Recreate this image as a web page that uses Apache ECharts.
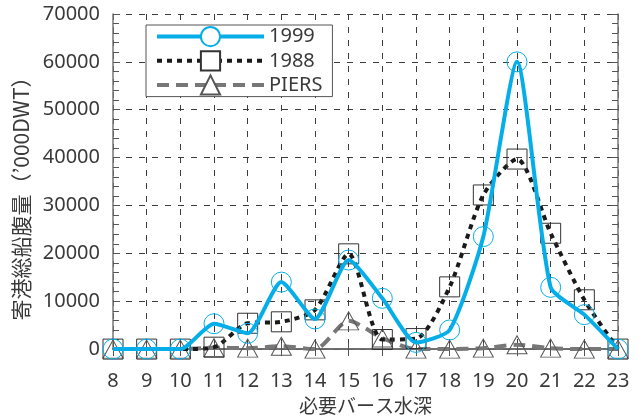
<!DOCTYPE html>
<html>
<head>
<meta charset="utf-8">
<script src="https://cdn.jsdelivr.net/npm/echarts@6/dist/echarts.min.js"></script>
<style>
  html, body { margin: 0; padding: 0; background: #ffffff; }
  #chart { width: 644px; height: 420px; }
</style>
</head>
<body>
<div id="chart"></div>
<script>
// Required berth depth (m)
const depths = ['8', '9', '10', '11', '12', '13', '14', '15', '16', '17', '18', '19', '20', '21', '22', '23'];
// Total calling tonnage ('000 DWT) by required berth depth
const tonnage1999 = [0, 0, 0, 5300, 3300, 14000, 6300, 18600, 10600, 1400, 4000, 23500, 60000, 12900, 7200, 0];
const tonnage1988 = [0, 0, 0, 400, 5400, 5700, 8200, 19900, 2000, 2200, 13000, 32200, 39700, 24200, 10300, 0];
const tonnagePiers = [0, 0, 0, 300, 200, 600, 0, 5900, 2300, 0, 0, 200, 900, 200, 0, 0];
const yTicks = [0, 10000, 20000, 30000, 40000, 50000, 60000, 70000];

const latin = '"Noto Sans", sans-serif';
const cjk = '"Noto Sans CJK JP", sans-serif';
const textColor = '#3a3a3a';
const gridDash = { color: '#3c3c3c', width: 1, type: [6, 7] };

const chart = echarts.init(document.getElementById('chart'), null, { renderer: 'canvas' });

chart.setOption({
  animation: false,
  backgroundColor: '#ffffff',
  grid: { left: 113, right: 26, top: 14, bottom: 63, containLabel: false },
  legend: {
    orient: 'vertical',
    left: 146,
    top: 25,
    width: 185,
    padding: [1, 10, 1, 9],
    itemGap: 3,
    itemWidth: 107,
    itemHeight: 24,
    backgroundColor: '#ffffff',
    borderColor: '#555555',
    borderWidth: 1,
    borderRadius: 0,
    itemStyle: { color: '#ffffff' },
    lineStyle: { width: 'inherit' },
    textStyle: { fontFamily: latin, fontSize: 20, color: textColor },
    data: ['1999', '1988', 'PIERS']
  },
  xAxis: [
    {
      type: 'category',
      data: depths,
      boundaryGap: false,
      position: 'bottom',
      name: '必要バース水深',
      nameLocation: 'middle',
      nameGap: 45,
      nameTextStyle: { fontFamily: cjk, fontSize: 19, color: textColor },
      axisLine: { lineStyle: { color: '#222222', width: 1.5 } },
      axisTick: { inside: true, length: 6, alignWithLabel: true, lineStyle: { color: '#555555' } },
      axisLabel: { fontFamily: latin, fontSize: 20, color: textColor, margin: 22, interval: 0 },
      splitLine: { show: true, lineStyle: gridDash }
    },
    {
      type: 'category',
      data: depths,
      boundaryGap: false,
      position: 'top',
      axisLine: { lineStyle: { color: '#777777', width: 1.5 } },
      axisTick: { inside: true, length: 7, lineStyle: { color: '#555555' } },
      axisLabel: { show: false },
      splitLine: { show: false }
    }
  ],
  yAxis: [
    {
      type: 'value',
      min: yTicks[0],
      max: yTicks[yTicks.length - 1],
      interval: 10000,
      position: 'left',
      name: '寄港総船腹量（’000DWT）',
      nameLocation: 'middle',
      nameGap: 68,
      nameTextStyle: { fontFamily: cjk, fontSize: 21, color: textColor, padding: [0, 24, 0, 0] },
      axisLine: { show: true, lineStyle: { color: '#777777', width: 1.5 } },
      axisTick: { show: true, inside: true, length: 7, lineStyle: { color: '#555555' } },
      minorTick: { show: true, splitNumber: 5, length: 6, lineStyle: { color: '#555555' } },
      axisLabel: {
        fontFamily: latin, fontSize: 20, color: textColor, margin: 13,
        padding: [9, 0, 0, 0],
        formatter: (v) => String(v)
      },
      splitLine: { show: true, lineStyle: gridDash }
    },
    {
      type: 'value',
      min: yTicks[0],
      max: yTicks[yTicks.length - 1],
      interval: 10000,
      position: 'right',
      axisLine: { show: true, lineStyle: { color: '#777777', width: 1.5 } },
      axisTick: { show: true, inside: true, length: 7, lineStyle: { color: '#555555' } },
      minorTick: { show: true, splitNumber: 5, length: 6, lineStyle: { color: '#555555' } },
      axisLabel: { show: false },
      splitLine: { show: false }
    }
  ],
  series: [
    {
      name: 'PIERS',
      type: 'line',
      data: tonnagePiers,
      smooth: 0.25,
      symbol: 'triangle',
      symbolSize: [20, 18],
      z: 2,
      lineStyle: { color: '#777777', width: 4, type: [12, 7] },
      itemStyle: { color: 'rgba(0,0,0,0)', borderColor: '#555555', borderWidth: 1 }
    },
    {
      name: '1988',
      type: 'line',
      data: tonnage1988,
      smooth: 0.25,
      symbol: 'rect',
      symbolSize: 20,
      z: 3,
      lineStyle: { color: '#1a1a1a', width: 4, type: [5, 5] },
      itemStyle: { color: 'rgba(0,0,0,0)', borderColor: '#333333', borderWidth: 1 }
    },
    {
      name: '1999',
      type: 'line',
      data: tonnage1999,
      smooth: 0.2,
      symbol: 'circle',
      symbolSize: 20,
      z: 4,
      lineStyle: { color: '#05aee8', width: 4 },
      itemStyle: { color: 'rgba(0,0,0,0)', borderColor: '#05aee8', borderWidth: 1 }
    }
  ]
});
</script>
</body>
</html>
